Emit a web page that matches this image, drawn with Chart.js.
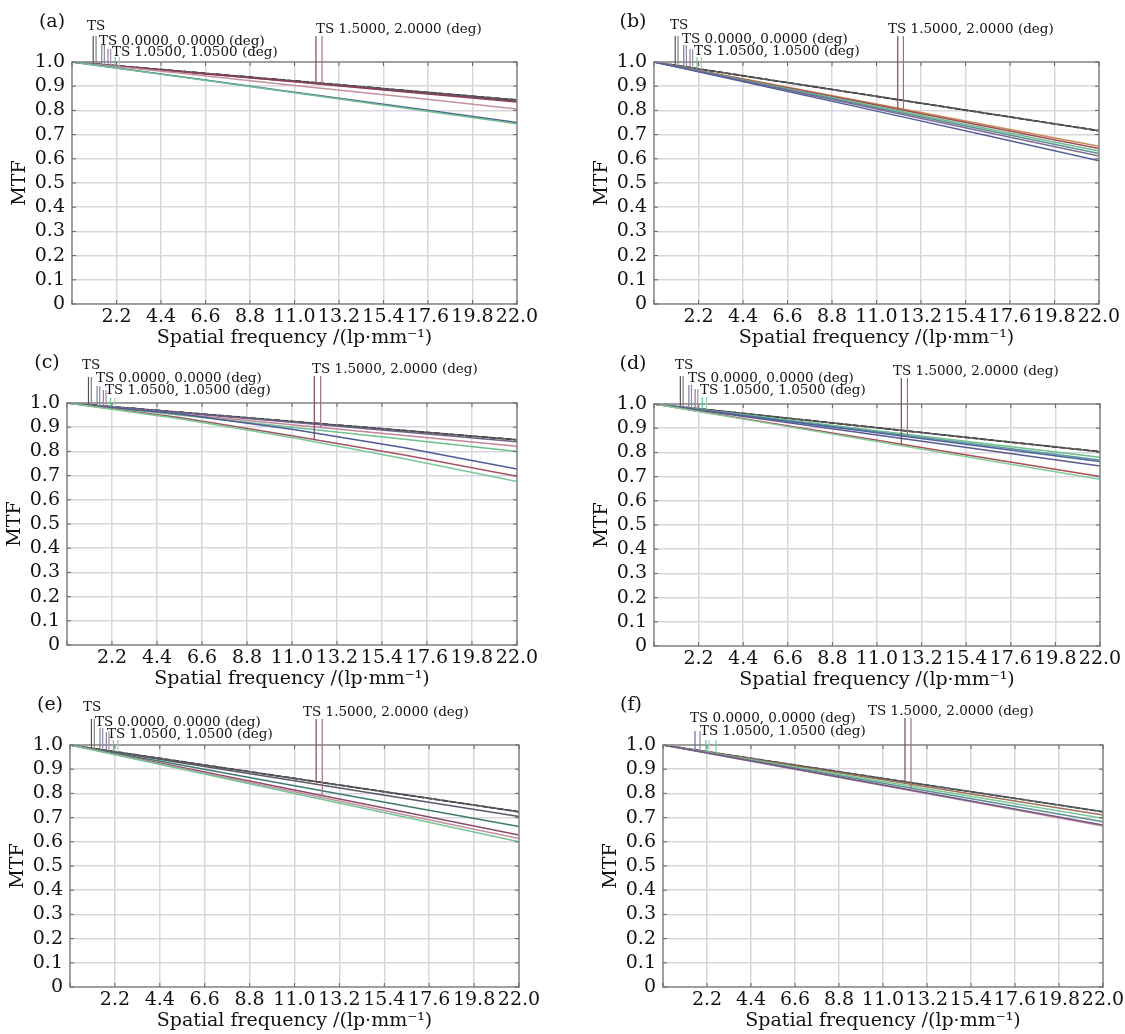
<!DOCTYPE html>
<html><head><meta charset="utf-8">
<script src="https://cdn.jsdelivr.net/npm/chart.js@4/dist/chart.umd.min.js"></script>
<style>
html,body{margin:0;padding:0;background:#fff;}
body{width:1125px;height:1034px;position:relative;overflow:hidden;}
canvas.p{position:absolute;}
</style></head><body>
<script>
// ---------- data ----------
const freq = [0, 5.5, 11, 16.5, 22];
const xTickValues = [0, 2.2, 4.4, 6.6, 8.8, 11, 13.2, 15.4, 17.6, 19.8, 22];
const xTickLabels = ['', '2.2', '4.4', '6.6', '8.8', '11.0', '13.2', '15.4', '17.6', '19.8', '22.0'];
const yTickValues = [0, 0.1, 0.2, 0.3, 0.4, 0.5, 0.6, 0.7, 0.8, 0.9, 1.0];
const yTickLabels = ['0', '0.1', '0.2', '0.3', '0.4', '0.5', '0.6', '0.7', '0.8', '0.9', '1.0'];
const fieldLabels = ['TS', 'TS 0.0000, 0.0000 (deg)', 'TS 1.0500, 1.0500 (deg)', 'TS 1.5000, 2.0000 (deg)'];
const panelLetters = ['(a)', '(b)', '(c)', '(d)', '(e)', '(f)'];
const xTitle = 'Spatial frequency /(lp\u00b7mm\u207b\u00b9)';
const yTitle = 'MTF';

// panel (a)
const a_green  = [1, 0.937, 0.873, 0.809, 0.745];
const a_blue   = [1, 0.938, 0.875, 0.813, 0.750];
const a_pink   = [1, 0.952, 0.903, 0.855, 0.806];
const a_red    = [1, 0.959, 0.918, 0.876, 0.835];
const a_purple = [1, 0.960, 0.919, 0.879, 0.838];
const a_diff   = [1, 0.961, 0.922, 0.882, 0.843];
// panel (b)
const b_blue   = [1, 0.899, 0.797, 0.695, 0.592];
const b_purple = [1, 0.903, 0.806, 0.709, 0.612];
const b_teal   = [1, 0.906, 0.811, 0.717, 0.622];
const b_green  = [1, 0.908, 0.816, 0.724, 0.632];
const b_red    = [1, 0.911, 0.822, 0.732, 0.643];
const b_orange = [1, 0.913, 0.826, 0.739, 0.652];
const b_diff   = [1, 0.929, 0.858, 0.787, 0.716];
// panel (c)
const c_green2 = [1, 0.935, 0.857, 0.770, 0.676];
const c_red    = [1, 0.940, 0.865, 0.785, 0.697];
const c_blue   = [1, 0.955, 0.892, 0.815, 0.727];
const c_green  = [1, 0.950, 0.900, 0.850, 0.800];
const c_pink   = [1, 0.955, 0.910, 0.866, 0.821];
const c_purple = [1, 0.960, 0.920, 0.880, 0.840];
const c_diff   = [1, 0.962, 0.924, 0.886, 0.848];
// panel (d)
const d_green2 = [1, 0.922, 0.845, 0.767, 0.689];
const d_red    = [1, 0.925, 0.850, 0.775, 0.700];
const d_purple = [1, 0.936, 0.872, 0.808, 0.744];
const d_blue   = [1, 0.940, 0.881, 0.821, 0.762];
const d_teal   = [1, 0.942, 0.885, 0.827, 0.769];
const d_green  = [1, 0.945, 0.890, 0.835, 0.780];
const d_diff   = [1, 0.951, 0.902, 0.852, 0.803];
// panel (e)
const e_green  = [1, 0.900, 0.800, 0.700, 0.600];
const e_pink   = [1, 0.903, 0.807, 0.710, 0.614];
const e_red    = [1, 0.907, 0.814, 0.721, 0.628];
const e_teal   = [1, 0.916, 0.832, 0.747, 0.663];
const e_gray   = [1, 0.926, 0.852, 0.778, 0.704];
const e_diff   = [1, 0.931, 0.862, 0.793, 0.724];
// panel (f)
const f_purple = [1, 0.917, 0.835, 0.752, 0.669];
const f_pink   = [1, 0.916, 0.833, 0.749, 0.665];
const f_teal   = [1, 0.921, 0.842, 0.762, 0.683];
const f_green  = [1, 0.924, 0.849, 0.773, 0.697];
const f_brown  = [1, 0.928, 0.856, 0.783, 0.711];
const f_diff   = [1, 0.931, 0.862, 0.793, 0.724];

// ---------- layout / style ----------
const SERIF = '"DejaVu Serif", "Liberation Serif", serif';
const TEXT = '#111';
const smallLeadersStd = [
  {x:1.05, top:-26, c:'#555'}, {x:1.19, top:-26, c:'#808080'},
  {x:1.47, top:-17, c:'#7d8098'}, {x:1.60, top:-17, c:'#8d8aa4'},
  {x:1.78, top:-13, c:'#8f7f9a'}, {x:1.91, top:-13, c:'#a08fa6'},
  {x:2.13, top:-5, c:'#6cc08f'}, {x:2.34, top:-5, c:'#95d4ad'}
];
const panels = [
  {rect:{L:72,T:62,R:517,B:304}, letterDx:-20,
   series:[[a_green,'#6cc08f'],[a_blue,'#4f5d8c'],[a_pink,'#c4929e'],[a_red,'#8e3d52'],[a_purple,'#5f5377'],[a_diff,'#111111']],
   labels:[[0,15,-36],[1,27,-21],[2,40,-10],[3,244,-33]],
   leaders: smallLeadersStd.concat([{x:12.06,top:-26,s:5,c:'#7a4a5a'},{x:12.36,top:-26,s:3,c:'#a07080'}])},
  {rect:{L:654,T:62,R:1099,B:304}, letterDx:-21,
   series:[[b_blue,'#55609a'],[b_purple,'#7b6c98'],[b_teal,'#5f9090'],[b_green,'#6cbf8c'],[b_red,'#a04b5c'],[b_orange,'#c98a52'],[b_diff,'#111111']],
   labels:[[0,16,-37],[1,28,-23],[2,40,-11],[3,234,-33]],
   leaders: smallLeadersStd.concat([{x:12.05,top:-26,s:5,c:'#7a4a5a'},{x:12.33,top:-26,s:4,c:'#a07080'}])},
  {rect:{L:67,T:403,R:517,B:645}, letterDx:-20,
   series:[[c_green2,'#78c996'],[c_red,'#a55262'],[c_blue,'#4d5a96'],[c_green,'#6dbf8e'],[c_pink,'#c4849a'],[c_purple,'#6e6088'],[c_diff,'#151515']],
   labels:[[0,15,-38],[1,29,-25],[2,38,-13],[3,245,-34]],
   leaders: smallLeadersStd.concat([{x:12.09,top:-27,s:1,c:'#7a4a5a'},{x:12.4,top:-27,s:4,c:'#a07080'}])},
  {rect:{L:654,T:404,R:1100,B:646}, letterDx:-21,
   series:[[d_green2,'#7fcf9c'],[d_red,'#b04a55'],[d_purple,'#5a5a90'],[d_blue,'#4d63a0'],[d_teal,'#5f9a98'],[d_green,'#6cbf8c'],[d_diff,'#151515']],
   labels:[[0,21,-39],[1,34,-26],[2,46,-14],[3,239,-33]],
   leaders: smallLeadersStd.map(o=>({x:o.x+0.25,top:o.top-2,c:o.c})).concat([{x:12.2,top:-26,s:1,c:'#7a4a5a'},{x:12.5,top:-26,s:3,c:'#a07080'}])},
  {rect:{L:70,T:745,R:519,B:987}, letterDx:-20,
   series:[[e_green,'#74c594'],[e_pink,'#c68ea0'],[e_red,'#8a4a6a'],[e_teal,'#3e7a6a'],[e_gray,'#5d5868'],[e_diff,'#222222']],
   labels:[[0,13,-38],[1,25,-23],[2,37,-11],[3,233,-33]],
   leaders: smallLeadersStd.concat([{x:12.06,top:-26,s:5,c:'#7a4a5a'},{x:12.36,top:-26,s:2,c:'#a07080'}])},
  {rect:{L:663,T:745,R:1103,B:987}, letterDx:-32,
   series:[[f_purple,'#6d5a85'],[f_pink,'#c48a9a'],[f_teal,'#5a9090'],[f_green,'#7ac898'],[f_brown,'#a0705a'],[f_diff,'#2f4f56']],
   labels:[[1,27,-27],[2,37,-14],[3,205,-34]],
   leaders:[{x:1.6,top:-14,c:'#6d6aa0'},{x:1.85,top:-14,c:'#8a86aa'},{x:2.15,top:-5,c:'#6cc08f'},{x:2.3,top:-5,c:'#95d4ad'},{x:2.65,top:-5,c:'#7ac898'},
            {x:12.1,top:-27,s:5,c:'#7a4a5a'},{x:12.4,top:-27,s:0,c:'#a07080'}]}
];

const Y_W = 72, PAD_T = 62, PAD_R = 32, X_H = 50;

function interp(arr, x){
  for (let i=0;i<freq.length-1;i++){
    if (x>=freq[i] && x<=freq[i+1]){
      const t=(x-freq[i])/(freq[i+1]-freq[i]);
      return arr[i]+(arr[i+1]-arr[i])*t;
    }
  }
  return arr[arr.length-1];
}

const decorPlugin = {
  id:'decor',
  afterDatasetsDraw(chart, args, opts){
    const p = opts.panel, idx = opts.index;
    const ctx = chart.ctx, ca = chart.chartArea;
    const xs = chart.scales.x, ys = chart.scales.y;
    ctx.save();
    // border
    ctx.strokeStyle = '#8a8a8a'; ctx.lineWidth = 1.5;
    ctx.strokeRect(ca.left, ca.top, ca.right-ca.left, ca.bottom-ca.top);
    // small inner ticks
    ctx.strokeStyle = '#666'; ctx.lineWidth = 1;
    xTickValues.forEach(v=>{
      const px = xs.getPixelForValue(v);
      ctx.beginPath(); ctx.moveTo(px, ca.top); ctx.lineTo(px, ca.top+4); ctx.stroke();
      ctx.beginPath(); ctx.moveTo(px, ca.bottom); ctx.lineTo(px, ca.bottom-4); ctx.stroke();
    });
    yTickValues.forEach(v=>{
      const py = ys.getPixelForValue(v);
      ctx.beginPath(); ctx.moveTo(ca.left, py); ctx.lineTo(ca.left+4, py); ctx.stroke();
      ctx.beginPath(); ctx.moveTo(ca.right, py); ctx.lineTo(ca.right-4, py); ctx.stroke();
    });
    // leader lines
    ctx.lineWidth = 1.2;
    p.leaders.forEach(l=>{
      const s = (l.s===undefined) ? p.series.length-1 : l.s;
      const px = xs.getPixelForValue(l.x);
      const py = ys.getPixelForValue(interp(p.series[s][0], l.x));
      ctx.strokeStyle = l.c;
      ctx.beginPath(); ctx.moveTo(px, ca.top + l.top); ctx.lineTo(px, py); ctx.stroke();
    });
    // field labels
    ctx.fillStyle = TEXT;
    ctx.font = '13.5px ' + SERIF;
    ctx.textAlign = 'left'; ctx.textBaseline = 'middle';
    p.labels.forEach(([li, dx, dy])=>{
      ctx.fillText(fieldLabels[li], ca.left + dx, ca.top + dy);
    });
    // panel letter
    ctx.font = '19px ' + SERIF;
    ctx.textAlign = 'center';
    ctx.fillText(panelLetters[idx], ca.left + p.letterDx, ca.top - 40);
    ctx.restore();
  }
};

panels.forEach((p, idx)=>{
  const r = p.rect;
  const cv = document.createElement('canvas');
  cv.className = 'p';
  const W = (r.R - r.L) + Y_W + PAD_R;
  const H = (r.B - r.T) + PAD_T + X_H;
  cv.width = W; cv.height = H;
  cv.style.left = (r.L - Y_W) + 'px';
  cv.style.top = (r.T - PAD_T) + 'px';
  cv.style.width = W + 'px'; cv.style.height = H + 'px';
  document.body.appendChild(cv);

  const last = p.series.length - 1;
  const datasets = p.series.map(([vals, color], si)=>({
    data: freq.map((f,i)=>({x:f, y:vals[i]})),
    borderColor: si===last ? '#555555' : color, borderWidth: 1.5, pointRadius: 0, fill: false, tension: 0
  }));
  // diffraction-limit curve: dashed dark overlay on its grey base line
  const diffVals = p.series[last][0];
  datasets.push({
    data: freq.map((f,i)=>({x:f, y:diffVals[i]})),
    borderColor: p.series[last][1], borderWidth: 1.7, borderDash:[6,2], pointRadius: 0, fill: false, tension: 0
  });

  new Chart(cv.getContext('2d'), {
    type: 'line',
    data: { datasets },
    plugins: [decorPlugin],
    options: {
      responsive: false, animation: false, devicePixelRatio: 1,
      layout: { padding: { left: 0, top: PAD_T, right: PAD_R, bottom: 0 } },
      plugins: { legend: {display:false}, tooltip: {enabled:false}, decor: {panel: p, index: idx} },
      scales: {
        x: {
          type: 'linear', min: 0, max: 22,
          afterBuildTicks: s => { s.ticks = xTickValues.map(v=>({value:v})); },
          afterFit: s => { s.height = X_H; },
          ticks: { autoSkip:false, maxRotation:0, padding:2, color:TEXT,
                   font:{family:SERIF, size:19}, callback:(v,i)=>xTickLabels[i] },
          grid: { color:'#d8d5dd', lineWidth:1.5, drawTicks:false },
          border: { display:false },
          title: { display:true, text:xTitle, color:TEXT, font:{family:SERIF, size:19}, padding:{top:0,bottom:5} }
        },
        y: {
          type: 'linear', min: 0, max: 1,
          afterBuildTicks: s => { s.ticks = yTickValues.map(v=>({value:v})); },
          afterFit: s => { s.width = Y_W; },
          ticks: { autoSkip:false, padding:7, color:TEXT, font:{family:SERIF, size:19}, callback:(v,i)=>yTickLabels[i] },
          grid: { color:'#d8d5dd', lineWidth:1.5, drawTicks:false },
          border: { display:false },
          title: { display:true, text:yTitle, color:TEXT, font:{family:SERIF, size:19}, padding:{top:9,bottom:0} }
        }
      }
    }
  });
});
</script>
</body></html>
